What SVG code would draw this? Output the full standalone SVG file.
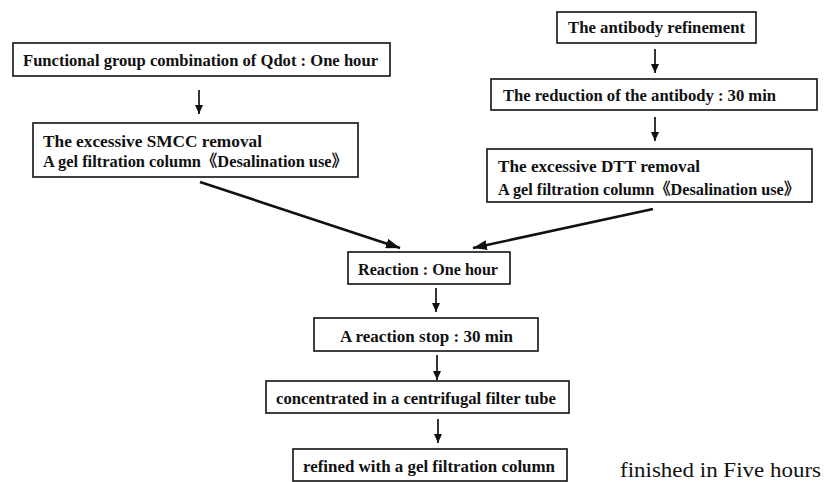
<svg xmlns="http://www.w3.org/2000/svg" width="824" height="482" viewBox="0 0 824 482">
<style>
.box{fill:#fff;stroke:#111;stroke-width:1.6}
.t{font-family:'Liberation Serif','Noto Sans CJK SC',serif;font-weight:bold;font-size:16.5px;fill:#111}
.r{font-family:'Liberation Serif',serif;font-size:22px;fill:#111}
.c{stroke:#111;fill:none}
.v{stroke-width:1.7}
.d{stroke-width:2.6}
</style>
<defs>
<marker id="ah" markerUnits="userSpaceOnUse" markerWidth="9" markerHeight="8" refX="9" refY="4" orient="auto"><path d="M0,0 L9,4 L0,8 z" fill="#111"/></marker>
<marker id="ahb" markerUnits="userSpaceOnUse" markerWidth="14" markerHeight="10" refX="14" refY="5" orient="auto"><path d="M0,0 L14,5 L0,10 z" fill="#111"/></marker>
</defs>
<rect width="824" height="482" fill="#fff"/>
<g id="connectors">
<line class="c v" x1="199" y1="90" x2="199" y2="114" marker-end="url(#ah)"/>
<line class="c v" x1="655" y1="49" x2="655" y2="73" marker-end="url(#ah)"/>
<line class="c v" x1="655" y1="117" x2="655" y2="141" marker-end="url(#ah)"/>
<line class="c v" x1="436" y1="288" x2="436" y2="312" marker-end="url(#ah)"/>
<line class="c v" x1="437" y1="355" x2="437" y2="380" marker-end="url(#ah)"/>
<line class="c v" x1="438" y1="419" x2="438" y2="443" marker-end="url(#ah)"/>
<line class="c d" x1="200" y1="182" x2="400" y2="248" marker-end="url(#ahb)"/>
<line class="c d" x1="653" y1="209" x2="473" y2="248" marker-end="url(#ahb)"/>
</g>
<g id="n1"><rect class="box" x="13" y="43" width="377" height="33"/><text class="t" x="23" y="66" textLength="355" lengthAdjust="spacingAndGlyphs">Functional group combination of Qdot : One hour</text></g>
<g id="n2"><rect class="box" x="33" y="123" width="325" height="54"/><text class="t" x="43" y="147" textLength="219" lengthAdjust="spacingAndGlyphs">The excessive SMCC removal</text><text class="t" x="43" y="167" textLength="305" lengthAdjust="spacingAndGlyphs">A gel filtration column《Desalination use》</text></g>
<g id="n3"><rect class="box" x="557" y="12" width="199" height="31"/><text class="t" x="568" y="33" textLength="177" lengthAdjust="spacingAndGlyphs">The antibody refinement</text></g>
<g id="n4"><rect class="box" x="491" y="79" width="326" height="31"/><text class="t" x="503" y="101" textLength="273" lengthAdjust="spacingAndGlyphs">The reduction of the antibody : 30 min</text></g>
<g id="n5"><rect class="box" x="487" y="149" width="325" height="53"/><text class="t" x="498" y="172" textLength="202" lengthAdjust="spacingAndGlyphs">The excessive DTT removal</text><text class="t" x="498" y="195" textLength="302" lengthAdjust="spacingAndGlyphs">A gel filtration column《Desalination use》</text></g>
<g id="n6"><rect class="box" x="348" y="252" width="162" height="32"/><text class="t" x="358" y="275" textLength="140" lengthAdjust="spacingAndGlyphs">Reaction : One hour</text></g>
<g id="n7"><rect class="box" x="314" y="318" width="224" height="33"/><text class="t" x="340" y="342" textLength="173" lengthAdjust="spacingAndGlyphs">A reaction stop :  30 min</text></g>
<g id="n8"><rect class="box" x="266" y="381" width="303" height="32"/><text class="t" x="276" y="404" textLength="280" lengthAdjust="spacingAndGlyphs">concentrated in a centrifugal filter tube</text></g>
<g id="n9"><rect class="box" x="293" y="449" width="274" height="32"/><text class="t" x="303" y="472" textLength="252" lengthAdjust="spacingAndGlyphs">refined with a gel filtration column</text></g>
<g id="note"><text class="r" x="620" y="477" textLength="201" lengthAdjust="spacingAndGlyphs">finished in Five hours</text></g>
</svg>
